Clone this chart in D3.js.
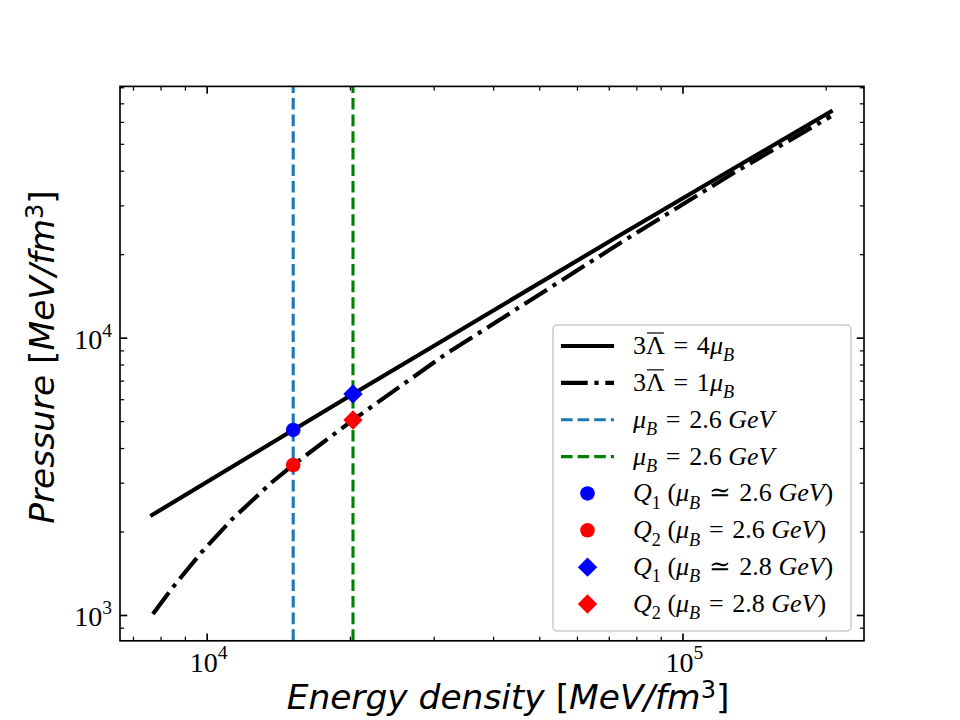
<!DOCTYPE html>
<html>
<head>
<meta charset="utf-8">
<script src="https://cdn.jsdelivr.net/npm/d3@7"></script>
<style>
  body { margin: 0; background: #fff; }
</style>
</head>
<body>
<div id="chart"></div>
<script>
// 3Λ̄ = 4μB (solid curve)
const epsSolid = [7680, 15200, 20300, 74000, 205000];
const pSolid = [2294, 4648, 6266, 23460, 65400];

// 3Λ̄ = 1μB (dash-dot curve)
const epsDashDot = [7710, 8510, 9770, 11290, 13710, 15200, 20300, 31620, 74000, 128000, 205000];
const pDashDot = [1008, 1265, 1688, 2209, 3011, 3475, 5050, 8670, 21950, 39260, 62810];

// vertical lines at the two chemical potentials
const vlineEps = [15200, 20300];
const vlineColors = ["#1f77b4", "green"];

// Q1 / Q2 points
const pointEps = [15200, 15200, 20300, 20300];
const pointP = [4648, 3475, 6266, 5050];
const pointColors = ["blue", "red", "blue", "red"];
const pointShapes = ["circle", "circle", "diamond", "diamond"];

const xMajor = [1e4, 1e5];
const yMajor = [1e3, 1e4];

// legend labels, split in math pieces (wider spaces around relations)
const sp = "\u2004";
const legendLabels = [
    [{t: "3"}, {t: "Λ", over: true}, {t: sp + "=" + sp + "4"}, {t: "μ", i: true}, {t: "B", i: true, sub: true}],
    [{t: "3"}, {t: "Λ", over: true}, {t: sp + "=" + sp + "1"}, {t: "μ", i: true}, {t: "B", i: true, sub: true}],
    [{t: "μ", i: true}, {t: "B", i: true, sub: true}, {t: sp + "=" + sp + "2.6 "}, {t: "GeV", i: true}],
    [{t: "μ", i: true}, {t: "B", i: true, sub: true}, {t: sp + "=" + sp + "2.6 "}, {t: "GeV", i: true}],
    [{t: "Q", i: true}, {t: "1", sub: true}, {t: " ("}, {t: "μ", i: true}, {t: "B", i: true, sub: true}, {t: sp + "≃" + sp + "2.6 "}, {t: "GeV", i: true}, {t: ")"}],
    [{t: "Q", i: true}, {t: "2", sub: true}, {t: " ("}, {t: "μ", i: true}, {t: "B", i: true, sub: true}, {t: sp + "=" + sp + "2.6 "}, {t: "GeV", i: true}, {t: ")"}],
    [{t: "Q", i: true}, {t: "1", sub: true}, {t: " ("}, {t: "μ", i: true}, {t: "B", i: true, sub: true}, {t: sp + "≃" + sp + "2.8 "}, {t: "GeV", i: true}, {t: ")"}],
    [{t: "Q", i: true}, {t: "2", sub: true}, {t: " ("}, {t: "μ", i: true}, {t: "B", i: true, sub: true}, {t: sp + "=" + sp + "2.8 "}, {t: "GeV", i: true}, {t: ")"}]
];

const width = 960;
const height = 720;
const marginLeft = 120;
const marginRight = 96;
const marginTop = 86.4;
const marginBottom = 79.2;

const svg = d3.create("svg")
    .attr("width", width)
    .attr("height", height)
    .attr("viewBox", [0, 0, width, height]);

// attach first so text can be measured
document.getElementById("chart").appendChild(svg.node());

svg.append("rect").attr("width", width).attr("height", height).attr("fill", "#fff");

const x = d3.scaleLog([6574, 240700], [marginLeft, width - marginRight]);
const y = d3.scaleLog([807, 80560], [height - marginBottom, marginTop]);

const mathFont = "Liberation Serif, DejaVu Serif, serif";

// write text made of pieces (italic / sub / sup)
function mathText(g, segs, fs) {
    const text = g.append("text")
        .attr("font-family", mathFont)
        .attr("font-size", fs)
        .attr("fill", "#000");
    let shifted = 0;
    segs.forEach(s => {
        const ts = text.append("tspan").text(s.t);
        if (s.i) ts.attr("font-style", "italic");
        const target = s.sub ? fs * 0.28 : s.sup ? -fs * 0.45 : 0;
        if (target !== shifted) {
            ts.attr("dy", target - shifted);
            shifted = target;
        }
        if (s.sub || s.sup) ts.attr("font-size", fs * 0.7);
    });
    return text;
}

// vertical dashed lines
svg.append("g")
    .selectAll("line")
    .data(vlineEps)
    .join("line")
    .attr("x1", d => x(d))
    .attr("x2", d => x(d))
    .attr("y1", y.range()[0])
    .attr("y2", y.range()[1])
    .attr("stroke", (d, i) => vlineColors[i])
    .attr("stroke-width", 3.1)
    .attr("stroke-dasharray", "11.6,5");

// curves
const line = d3.line().x(d => x(d[0])).y(d => y(d[1]));

svg.append("path")
    .attr("d", line(d3.zip(epsSolid, pSolid)))
    .attr("fill", "none")
    .attr("stroke", "#000")
    .attr("stroke-width", 4.17)
    .attr("stroke-linecap", "square");

svg.append("path")
    .attr("d", line(d3.zip(epsDashDot, pDashDot)))
    .attr("fill", "none")
    .attr("stroke", "#000")
    .attr("stroke-width", 4.17)
    .attr("stroke-dasharray", "26.7,6.7,4.2,6.7");

// markers
function drawMarker(g, shape, color, cx, cy) {
    if (shape === "circle") {
        g.append("circle").attr("cx", cx).attr("cy", cy).attr("r", 7.3).attr("fill", color);
    } else {
        const r = 9.7;
        g.append("path")
            .attr("d", `M${cx},${cy - r}L${cx + r},${cy}L${cx},${cy + r}L${cx - r},${cy}Z`)
            .attr("fill", color);
    }
}
const marks = svg.append("g");
pointEps.forEach((e, i) => drawMarker(marks, pointShapes[i], pointColors[i], x(e), y(pointP[i])));

// axes: inward ticks on all four sides
const xMinor = x.ticks().filter(d => !xMajor.includes(d));
const yMinor = y.ticks().filter(d => !yMajor.includes(d));

function tickAxis(axisFn, scale, values, size, transform, sw) {
    svg.append("g")
        .attr("transform", transform)
        .call(axisFn(scale).tickValues(values).tickSize(-size).tickSizeOuter(0).tickFormat(""))
        .call(g => g.select(".domain").remove())
        .call(g => g.selectAll(".tick line").attr("stroke", "#000").attr("stroke-width", sw));
}
const bottomY = height - marginBottom;
const rightX = width - marginRight;
tickAxis(d3.axisBottom, x, xMajor, 7.3, `translate(0,${bottomY})`, 1.67);
tickAxis(d3.axisBottom, x, xMinor, 4.17, `translate(0,${bottomY})`, 1.25);
tickAxis(d3.axisTop, x, xMajor, 7.3, `translate(0,${marginTop})`, 1.67);
tickAxis(d3.axisTop, x, xMinor, 4.17, `translate(0,${marginTop})`, 1.25);
tickAxis(d3.axisLeft, y, yMajor, 7.3, `translate(${marginLeft},0)`, 1.67);
tickAxis(d3.axisLeft, y, yMinor, 4.17, `translate(${marginLeft},0)`, 1.25);
tickAxis(d3.axisRight, y, yMajor, 7.3, `translate(${rightX},0)`, 1.67);
tickAxis(d3.axisRight, y, yMinor, 4.17, `translate(${rightX},0)`, 1.25);

// frame
svg.append("rect")
    .attr("x", marginLeft)
    .attr("y", marginTop)
    .attr("width", rightX - marginLeft)
    .attr("height", bottomY - marginTop)
    .attr("fill", "none")
    .attr("stroke", "#000")
    .attr("stroke-width", 1.67);

// tick labels
const tickFs = 28;
xMajor.forEach(v => {
    mathText(svg, [{t: "10"}, {t: String(Math.round(Math.log10(v))), sup: true}], tickFs)
        .attr("x", x(v) + 2)
        .attr("y", bottomY + 31)
        .attr("text-anchor", "middle");
});
yMajor.forEach(v => {
    mathText(svg, [{t: "10"}, {t: String(Math.round(Math.log10(v))), sup: true}], tickFs)
        .attr("x", marginLeft - 8)
        .attr("y", y(v) + 11.5)
        .attr("text-anchor", "end");
});

// axis labels
function axisLabel(main, unit) {
    const t = svg.append("text")
        .attr("font-family", "DejaVu Sans, sans-serif")
        .attr("font-size", 34.4)
        .attr("fill", "#000")
        .attr("text-anchor", "middle");
    t.append("tspan").attr("font-style", "italic").text(main + " ");
    t.append("tspan").text("[");
    t.append("tspan").attr("font-style", "italic").text(unit);
    t.append("tspan").attr("font-size", 24).attr("dy", -11).text("3");
    t.append("tspan").attr("dy", 11).text("]");
    return t;
}
axisLabel("Energy density", "MeV/fm")
    .attr("x", 508)
    .attr("y", 709);
axisLabel("Pressure", "MeV/fm")
    .attr("transform", "translate(54,357) rotate(-90)");

// legend
const legend = svg.append("g");
legend.append("rect")
    .attr("x", 553)
    .attr("y", 325)
    .attr("width", 298)
    .attr("height", 306)
    .attr("rx", 4)
    .attr("fill", "#fff")
    .attr("fill-opacity", 0.8)
    .attr("stroke", "#cccccc")
    .attr("stroke-width", 1.5);

const rowY = i => 346 + i * 36.86;
const handleX0 = 561;
const handleX1 = 614;
const legendFs = 26;

const handleStyles = [
    {color: "#000", width: 4.17, dash: null, cap: "square"},
    {color: "#000", width: 4.17, dash: "26.7,6.7,4.2,6.7", cap: "butt"},
    {color: vlineColors[0], width: 3.1, dash: "11.6,5", cap: "butt"},
    {color: vlineColors[1], width: 3.1, dash: "11.6,5", cap: "butt"}
];

legendLabels.forEach((segs, i) => {
    const cy = rowY(i);
    if (i < 4) {
        const s = handleStyles[i];
        legend.append("line")
            .attr("x1", handleX0 + (s.cap === "square" ? 2 : 0))
            .attr("x2", handleX1 - (s.cap === "square" ? 2 : 0))
            .attr("y1", cy)
            .attr("y2", cy)
            .attr("stroke", s.color)
            .attr("stroke-width", s.width)
            .attr("stroke-linecap", s.cap)
            .attr("stroke-dasharray", s.dash);
    } else {
        const k = i - 4;
        drawMarker(legend, pointShapes[k], pointColors[k], (handleX0 + handleX1) / 2, cy);
    }
    const t = mathText(legend, segs, legendFs)
        .attr("x", 633)
        .attr("y", cy + 8);
    // overline on Λ
    let idx = 0;
    segs.forEach(s => {
        if (s.over) {
            const node = t.node();
            legend.append("line")
                .attr("x1", node.getStartPositionOfChar(idx).x + 1)
                .attr("x2", node.getEndPositionOfChar(idx).x - 1)
                .attr("y1", cy + 8 - 21)
                .attr("y2", cy + 8 - 21)
                .attr("stroke", "#000")
                .attr("stroke-width", 1.2);
        }
        idx += s.t.length;
    });
});
</script>
</body>
</html>
